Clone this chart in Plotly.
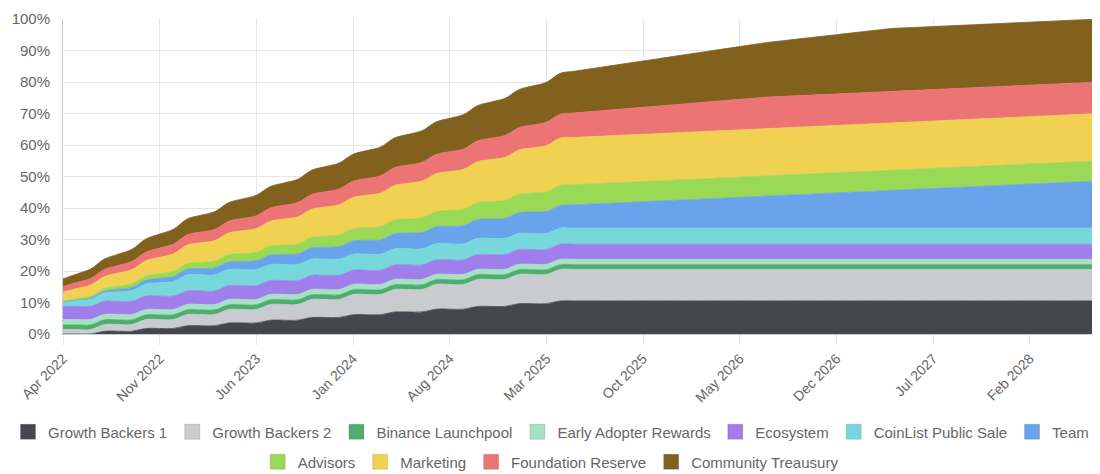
import plotly.graph_objects as go

months = [
    "Apr 2022", "May 2022", "Jun 2022", "Jul 2022", "Aug 2022", "Sep 2022", "Oct 2022", "Nov 2022", "Dec 2022",
    "Jan 2023", "Feb 2023", "Mar 2023", "Apr 2023", "May 2023", "Jun 2023", "Jul 2023", "Aug 2023", "Sep 2023",
    "Oct 2023", "Nov 2023", "Dec 2023",
    "Jan 2024", "Feb 2024", "Mar 2024", "Apr 2024", "May 2024", "Jun 2024", "Jul 2024", "Aug 2024", "Sep 2024",
    "Oct 2024", "Nov 2024", "Dec 2024",
    "Jan 2025", "Feb 2025", "Mar 2025", "Apr 2025", "May 2025", "Jun 2025", "Jul 2025", "Aug 2025", "Sep 2025",
    "Oct 2025", "Nov 2025", "Dec 2025",
    "Jan 2026", "Feb 2026", "Mar 2026", "Apr 2026", "May 2026", "Jun 2026", "Jul 2026", "Aug 2026", "Sep 2026",
    "Oct 2026", "Nov 2026", "Dec 2026",
    "Jan 2027", "Feb 2027", "Mar 2027", "Apr 2027", "May 2027", "Jun 2027", "Jul 2027", "Aug 2027", "Sep 2027",
    "Oct 2027", "Nov 2027", "Dec 2027",
    "Jan 2028", "Feb 2028", "Mar 2028", "Apr 2028", "May 2028", "Jun 2028", "Jul 2028",
]

tick_labels = ["Apr 2022", "Nov 2022", "Jun 2023", "Jan 2024", "Aug 2024", "Mar 2025",
               "Oct 2025", "May 2026", "Dec 2026", "Jul 2027", "Feb 2028"]

# values in % of total supply (cumulative unlocked), one value per month
growth_backers_1 = [
    0, 0, 0, 0.88, 0.88, 0.88, 1.75, 1.75, 1.75, 2.63, 2.63, 2.63,
    3.5, 3.5, 3.5, 4.38, 4.38, 4.38, 5.25, 5.25, 5.25, 6.13, 6.13, 6.13,
    7.0, 7.0, 7.0, 7.88, 7.88, 7.88, 8.75, 8.75, 8.75, 9.63, 9.63, 9.63,
    10.5, 10.5, 10.5, 10.5, 10.5, 10.5, 10.5, 10.5, 10.5, 10.5,
    10.5, 10.5, 10.5, 10.5, 10.5, 10.5, 10.5, 10.5, 10.5, 10.5,
    10.5, 10.5, 10.5, 10.5, 10.5, 10.5, 10.5, 10.5, 10.5, 10.5,
    10.5, 10.5, 10.5, 10.5, 10.5, 10.5, 10.5, 10.5, 10.5, 10.5,
]
growth_backers_2 = [
    1.4, 1.4, 1.4, 2.12, 2.12, 2.12, 2.83, 2.83, 2.83, 3.55, 3.55, 3.55,
    4.27, 4.27, 4.27, 4.98, 4.98, 4.98, 5.7, 5.7, 5.7, 6.42, 6.42, 6.42,
    7.13, 7.13, 7.13, 7.85, 7.85, 7.85, 8.57, 8.57, 8.57, 9.28, 9.28, 9.28,
    10.0, 10.0, 10.0, 10.0, 10.0, 10.0, 10.0, 10.0, 10.0, 10.0,
    10.0, 10.0, 10.0, 10.0, 10.0, 10.0, 10.0, 10.0, 10.0, 10.0,
    10.0, 10.0, 10.0, 10.0, 10.0, 10.0, 10.0, 10.0, 10.0, 10.0,
    10.0, 10.0, 10.0, 10.0, 10.0, 10.0, 10.0, 10.0, 10.0, 10.0,
]
binance_launchpool = [
    1.5, 1.5, 1.5, 1.5, 1.5, 1.5, 1.5, 1.5, 1.5, 1.5, 1.5, 1.5,
    1.5, 1.5, 1.5, 1.5, 1.5, 1.5, 1.5, 1.5, 1.5, 1.5, 1.5, 1.5,
    1.5, 1.5, 1.5, 1.5, 1.5, 1.5, 1.5, 1.5, 1.5, 1.5, 1.5, 1.5,
    1.5, 1.5, 1.5, 1.5, 1.5, 1.5, 1.5, 1.5, 1.5, 1.5,
    1.5, 1.5, 1.5, 1.5, 1.5, 1.5, 1.5, 1.5, 1.5, 1.5,
    1.5, 1.5, 1.5, 1.5, 1.5, 1.5, 1.5, 1.5, 1.5, 1.5,
    1.5, 1.5, 1.5, 1.5, 1.5, 1.5, 1.5, 1.5, 1.5, 1.5,
]
early_adopter_rewards = [
    1.7, 1.7, 1.7, 1.7, 1.7, 1.7, 1.7, 1.7, 1.7, 1.7, 1.7, 1.7,
    1.7, 1.7, 1.7, 1.7, 1.7, 1.7, 1.7, 1.7, 1.7, 1.7, 1.7, 1.7,
    1.7, 1.7, 1.7, 1.7, 1.7, 1.7, 1.7, 1.7, 1.7, 1.7, 1.7, 1.7,
    1.7, 1.7, 1.7, 1.7, 1.7, 1.7, 1.7, 1.7, 1.7, 1.7,
    1.7, 1.7, 1.7, 1.7, 1.7, 1.7, 1.7, 1.7, 1.7, 1.7,
    1.7, 1.7, 1.7, 1.7, 1.7, 1.7, 1.7, 1.7, 1.7, 1.7,
    1.7, 1.7, 1.7, 1.7, 1.7, 1.7, 1.7, 1.7, 1.7, 1.7,
]
ecosystem = [
    4.2, 4.2, 4.2, 4.2, 4.2, 4.2, 4.3, 4.3, 4.3, 4.3, 4.3, 4.3,
    4.4, 4.4, 4.4, 4.4, 4.4, 4.4, 4.5, 4.5, 4.5, 4.5, 4.5, 4.5,
    4.6, 4.6, 4.6, 4.6, 4.6, 4.6, 4.7, 4.7, 4.7, 4.7, 4.7, 4.7,
    4.8, 4.8, 4.8, 4.8, 4.8, 4.8, 4.8, 4.8, 4.8, 4.8,
    4.8, 4.8, 4.8, 4.8, 4.8, 4.8, 4.8, 4.8, 4.8, 4.8,
    4.8, 4.8, 4.8, 4.8, 4.8, 4.8, 4.8, 4.8, 4.8, 4.8,
    4.8, 4.8, 4.8, 4.8, 4.8, 4.8, 4.8, 4.8, 4.8, 4.8,
]
coinlist_public_sale = [
    1.4, 1.8, 2.2, 2.6, 3.0, 3.4, 3.8, 4.2, 4.6, 5.1, 5.1, 5.1,
    5.1, 5.1, 5.1, 5.1, 5.1, 5.1, 5.1, 5.1, 5.1, 5.1, 5.1, 5.1,
    5.1, 5.1, 5.1, 5.1, 5.1, 5.1, 5.1, 5.1, 5.1, 5.1, 5.1, 5.1,
    5.1, 5.1, 5.1, 5.1, 5.1, 5.1, 5.1, 5.1, 5.1, 5.1,
    5.1, 5.1, 5.1, 5.1, 5.1, 5.1, 5.1, 5.1, 5.1, 5.1,
    5.1, 5.1, 5.1, 5.1, 5.1, 5.1, 5.1, 5.1, 5.1, 5.1,
    5.1, 5.1, 5.1, 5.1, 5.1, 5.1, 5.1, 5.1, 5.1, 5.1,
]
team = [
    0.0, 0.2, 0.4, 0.6, 0.8, 1.0, 1.2, 1.4, 1.6, 1.8, 2.0, 2.2,
    2.4, 2.6, 2.8, 3.0, 3.2, 3.4, 3.6, 3.8, 4.0, 4.2, 4.4, 4.6,
    4.8, 5.0, 5.2, 5.4, 5.6, 5.8, 6.0, 6.2, 6.4, 6.6, 6.8, 7.0,
    7.2, 7.4, 7.6, 7.8, 8.0, 8.2, 8.4, 8.6, 8.8, 9.0,
    9.2, 9.4, 9.6, 9.8, 10.0, 10.2, 10.4, 10.6, 10.8, 11.0,
    11.2, 11.4, 11.6, 11.8, 12.0, 12.2, 12.4, 12.6, 12.8, 13.0,
    13.2, 13.4, 13.6, 13.8, 14.0, 14.2, 14.4, 14.6, 14.8, 15.0,
]
advisors = [
    0.3, 0.47, 0.64, 0.81, 0.98, 1.15, 1.32, 1.49, 1.66, 1.82, 1.99, 2.16,
    2.33, 2.5, 2.67, 2.84, 3.01, 3.18, 3.35, 3.52, 3.69, 3.86, 4.03, 4.2,
    4.37, 4.54, 4.7, 4.87, 5.04, 5.21, 5.38, 5.55, 5.72, 5.89, 6.06, 6.23,
    6.4, 6.4, 6.4, 6.4, 6.4, 6.4, 6.4, 6.4, 6.4, 6.4,
    6.4, 6.4, 6.4, 6.4, 6.4, 6.4, 6.4, 6.4, 6.4, 6.4,
    6.4, 6.4, 6.4, 6.4, 6.4, 6.4, 6.4, 6.4, 6.4, 6.4,
    6.4, 6.4, 6.4, 6.4, 6.4, 6.4, 6.4, 6.4, 6.4, 6.4,
]
marketing = [
    2.8, 3.14, 3.48, 3.82, 4.16, 4.49, 4.83, 5.17, 5.51, 5.85, 6.19, 6.53,
    6.87, 7.21, 7.54, 7.88, 8.22, 8.56, 8.9, 9.24, 9.58, 9.92, 10.26, 10.59,
    10.93, 11.27, 11.61, 11.95, 12.29, 12.63, 12.97, 13.31, 13.64, 13.98, 14.32, 14.66,
    15.0, 15.0, 15.0, 15.0, 15.0, 15.0, 15.0, 15.0, 15.0, 15.0,
    15.0, 15.0, 15.0, 15.0, 15.0, 15.0, 15.0, 15.0, 15.0, 15.0,
    15.0, 15.0, 15.0, 15.0, 15.0, 15.0, 15.0, 15.0, 15.0, 15.0,
    15.0, 15.0, 15.0, 15.0, 15.0, 15.0, 15.0, 15.0, 15.0, 15.0,
]
foundation_reserve = [
    1.8, 1.96, 2.12, 2.28, 2.44, 2.6, 2.77, 2.93, 3.09, 3.25, 3.41, 3.57,
    3.73, 3.89, 4.05, 4.21, 4.38, 4.54, 4.7, 4.86, 5.02, 5.18, 5.34, 5.5,
    5.66, 5.82, 5.99, 6.15, 6.31, 6.47, 6.63, 6.79, 6.95, 7.11, 7.27, 7.44,
    7.6, 7.76, 7.92, 8.08, 8.24, 8.4, 8.56, 8.72, 8.88, 9.05,
    9.21, 9.37, 9.53, 9.69, 9.85, 10.0, 10.0, 10.0, 10.0, 10.0,
    10.0, 10.0, 10.0, 10.0, 10.0, 10.0, 10.0, 10.0, 10.0, 10.0,
    10.0, 10.0, 10.0, 10.0, 10.0, 10.0, 10.0, 10.0, 10.0, 10.0,
]
community_treasury = [
    2.4, 2.69, 2.99, 3.28, 3.57, 3.87, 4.16, 4.45, 4.75, 5.04, 5.33, 5.63,
    5.92, 6.21, 6.51, 6.8, 7.09, 7.39, 7.68, 7.97, 8.27, 8.56, 8.85, 9.15,
    9.44, 9.73, 10.03, 10.32, 10.61, 10.91, 11.2, 11.49, 11.79, 12.08, 12.37, 12.67,
    12.96, 13.25, 13.55, 13.84, 14.13, 14.43, 14.72, 15.01, 15.31, 15.6,
    15.89, 16.19, 16.48, 16.77, 17.07, 17.36, 17.65, 17.95, 18.24, 18.53,
    18.83, 19.12, 19.41, 19.71, 20.0, 20.0, 20.0, 20.0, 20.0, 20.0,
    20.0, 20.0, 20.0, 20.0, 20.0, 20.0, 20.0, 20.0, 20.0, 20.0,
]

series_names = ["Growth Backers 1", "Growth Backers 2", "Binance Launchpool", "Early Adopter Rewards",
                "Ecosystem", "CoinList Public Sale", "Team", "Advisors", "Marketing",
                "Foundation Reserve", "Community Treausury"]
series_values = [growth_backers_1, growth_backers_2, binance_launchpool, early_adopter_rewards,
                 ecosystem, coinlist_public_sale, team, advisors, marketing,
                 foundation_reserve, community_treasury]
series_colors = ["#45474e", "#cacbcf", "#4caf6e", "#a6e1c5", "#a07eec", "#77d8db",
                 "#69a3ec", "#9ad955", "#f1d152", "#ec7475", "#82611f"]
# which legend row/block each entry sits in
legend_ids = ["legend", "legend", "legend", "legend", "legend2", "legend2", "legend2",
              "legend3", "legend3", "legend3", "legend3"]

fig = go.Figure()
for name, vals, col in zip(series_names, series_values, series_colors):
    fig.add_trace(go.Scatter(
        x=months[:len(vals)], y=vals, name=name, mode="lines", stackgroup="one",
        line=dict(color=col, width=0.8, shape="spline", smoothing=1.0),
        fillcolor=col, showlegend=False, legendgroup=name,
        hovertemplate="%{x}<br>" + name + ": %{y:.2f}%<extra></extra>",
    ))

# legend entries (square swatches)
for name, col, lid in zip(series_names, series_colors, legend_ids):
    fig.add_trace(go.Scatter(
        x=[None], y=[None], name=name, mode="markers", legendgroup=name,
        marker=dict(symbol="square", size=15, color=col, line=dict(width=1, color="rgba(0,0,0,0.12)")),
        legend=lid, hoverinfo="skip",
    ))

legend_common = dict(orientation="h", xref="container", yref="container", xanchor="left",
                     yanchor="middle", font=dict(size=15, color="#666666"),
                     bgcolor="rgba(0,0,0,0)", itemwidth=30, traceorder="normal")

fig.update_layout(
    template="none",
    width=1100, height=474,
    margin=dict(l=55, r=9, t=11, b=148),
    plot_bgcolor="white", paper_bgcolor="white",
    font=dict(family="Liberation Sans, Arial, Helvetica, sans-serif", color="#666666"),
    xaxis=dict(
        type="category", categoryorder="array", categoryarray=months,
        range=[0, len(months) - 1], tickmode="array", tickvals=tick_labels, ticktext=tick_labels,
        tickangle=-45, tickfont=dict(size=14, color="#666666"),
        showgrid=True, gridcolor="#e6e6e6", gridwidth=1,
        ticks="outside", ticklen=10, tickcolor="#e6e6e6",
        showline=True, linecolor="#cccccc", linewidth=1, zeroline=False, automargin=False,
    ),
    yaxis=dict(
        range=[0, 100], dtick=10, ticksuffix="%", tickfont=dict(size=15, color="#666666"),
        showgrid=True, gridcolor="#e6e6e6", gridwidth=1,
        showline=True, linecolor="#cccccc", linewidth=1, zeroline=False,
        ticks="", ticklabelstandoff=9, automargin=False, ticklabeloverflow="allow",
    ),
    legend=dict(legend_common, x=-0.004, y=0.1055),
    legend2=dict(legend_common, x=0.643, y=0.1055),
    legend3=dict(legend_common, x=0.227, y=0.0422),
    hovermode="x unified",
)

fig.write_html("out.html")
